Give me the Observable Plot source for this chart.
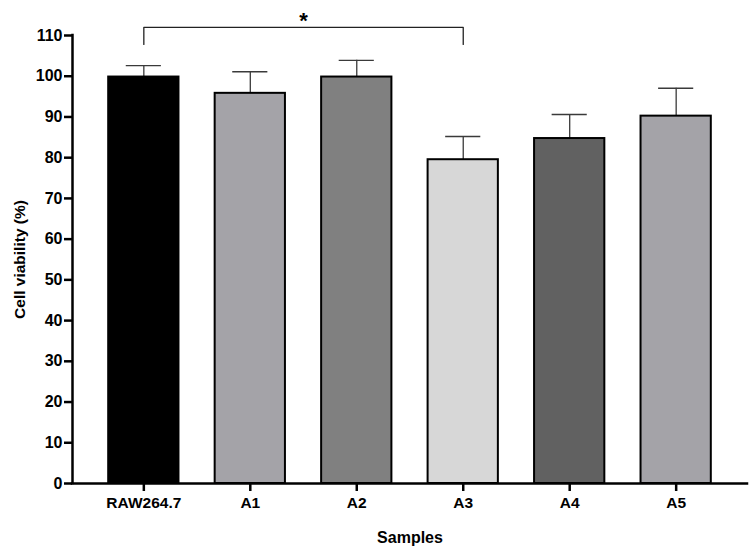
<!DOCTYPE html>
<html>
<head>
<meta charset="utf-8">
<script src="https://cdn.jsdelivr.net/npm/d3@7"></script>
<script src="https://cdn.jsdelivr.net/npm/@observablehq/plot@0.6"></script>
<style>
  body { margin: 0; background: #fff; }
  #chart svg { display: block; }
</style>
</head>
<body>
<div id="chart"></div>
<script>
// Cell viability per sample (mean ± SD, %)
const samples = ["RAW264.7", "A1", "A2", "A3", "A4", "A5"];
const viability = [99.8, 95.8, 99.8, 79.5, 84.7, 90.2];
const sd = [2.8, 5.3, 4.1, 5.7, 5.9, 6.85];
const fills = ["#000000", "#a4a3a8", "#808080", "#d7d7d7", "#616161", "#a4a3a8"];
const yTicks = [0, 10, 20, 30, 40, 50, 60, 70, 80, 90, 100, 110];

// Significance bracket between two samples
const comparison = { from: "RAW264.7", to: "A3", label: "*" };
const bracketLow = 107.8, bracketHigh = 112, starLevel = 113.6;

const rows = samples.map((s, i) => ({ i, sample: s, v: viability[i], sd: sd[i], fill: fills[i] }));
const xDomain = [-0.67, samples.length - 1 + 0.67];
const halfBar = 0.33, halfCap = 0.165;

const a = samples.indexOf(comparison.from), b = samples.indexOf(comparison.to);
const bracket = [
  { x: a, y: bracketLow }, { x: a, y: bracketHigh },
  { x: b, y: bracketHigh }, { x: b, y: bracketLow }
];

const font = "'Liberation Sans', Arial, Helvetica, sans-serif";

const chart = Plot.plot({
  width: 756,
  height: 552,
  marginLeft: 72,
  marginRight: 9,
  marginTop: 35,
  marginBottom: 69,
  style: { fontFamily: font, fontSize: "16px", fontWeight: "bold", color: "#000", background: "#fff", overflow: "visible" },
  x: { domain: xDomain, axis: null },
  y: { domain: [0, 110], axis: null },
  color: { type: "identity" },
  marks: [
    // error bars (upper whisker only)
    Plot.ruleX(rows, { x: "i", y1: "v", y2: d => d.v + d.sd, stroke: "#3a3a3a", strokeWidth: 1.3 }),
    Plot.ruleY(rows, { x1: d => d.i - halfCap, x2: d => d.i + halfCap, y: d => d.v + d.sd, stroke: "#3a3a3a", strokeWidth: 1.3 }),
    // bars
    Plot.rectY(rows, { x1: d => d.i - halfBar, x2: d => d.i + halfBar, y1: 0, y2: "v", fill: "fill", stroke: "#000", strokeWidth: 2 }),
    // axis lines
    Plot.ruleX([xDomain[0]], { y1: 0, y2: 110, stroke: "#000", strokeWidth: 2.5, strokeLinecap: "square" }),
    Plot.ruleY([0], { stroke: "#000", strokeWidth: 2.5, strokeLinecap: "square" }),
    // axes
    Plot.axisY(yTicks, { tickSize: 8, tickPadding: 2, strokeWidth: 2.5, fontSize: 16, fontWeight: "bold", label: null }),
    Plot.axisX(rows.map(d => d.i), { tickFormat: i => samples[i], tickSize: 8, tickPadding: 5, strokeWidth: 2.5, fontSize: 15.5, fontWeight: "bold", label: null }),
    // axis titles
    Plot.text(["Cell viability (%)"], { frameAnchor: "left", dx: -52, rotate: -90, textAnchor: "middle", lineAnchor: "middle", fontSize: 15.5, fontWeight: "bold" }),
    Plot.text(["Samples"], { frameAnchor: "bottom", dy: 54, textAnchor: "middle", lineAnchor: "middle", fontSize: 16, fontWeight: "bold" }),
    // significance bracket
    Plot.line(bracket, { x: "x", y: "y", stroke: "#222", strokeWidth: 1.3 }),
    Plot.text([comparison], { x: (a + b) / 2, y: starLevel, text: "label", fontSize: 22, fontWeight: "bold", lineAnchor: "middle" })
  ]
});

document.getElementById("chart").appendChild(chart);
</script>
</body>
</html>
